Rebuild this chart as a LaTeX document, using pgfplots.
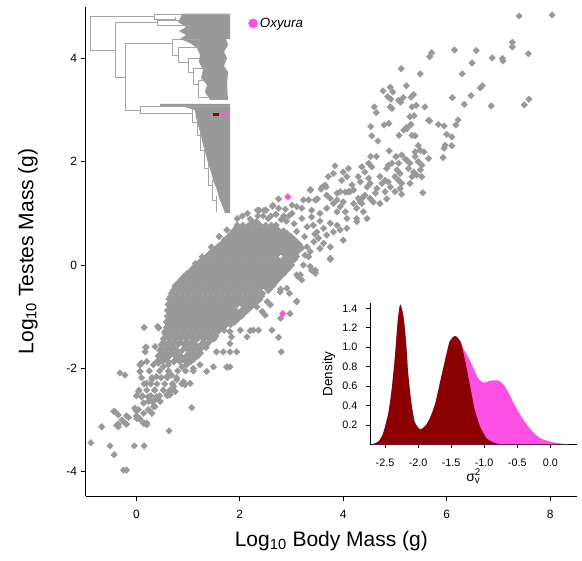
\documentclass[border=0pt]{standalone}
\usepackage{fontspec}
\setmainfont{Liberation Sans}
\usepackage{pgfplots}
\pgfplotsset{compat=1.18}
\definecolor{ptgray}{RGB}{153,153,153}
\definecolor{treegray}{RGB}{165,165,165}
\definecolor{oxy}{RGB}{255,80,230}
\definecolor{dred}{RGB}{139,0,0}
\pgfplotsset{ptstyle/.style={ptgray,only marks,mark=square*,mark size=2.3pt,
  mark options={rotate=45,fill=ptgray,draw=ptgray,line width=0.4pt}}}
\begin{document}
\begin{tikzpicture}[x=1pt,y=1pt]
\useasboundingbox (0,0) rectangle (582,561);
\coordinate (treeSW) at (0,0);
\coordinate (mainSW) at (85.7,65);
\coordinate (insetSW) at (370,116.6);
% ---------- phylogeny inset (pixel coordinates) ----------
\begin{axis}[at={(treeSW)},anchor=south west,scale only axis,width=582pt,height=561pt,
  xmin=0,xmax=582,ymin=0,ymax=561,y dir=reverse,hide axis,clip=false]
\addplot[fill=ptgray,draw=none] coordinates {(182,13.7) (230,13.7) (230,39) (226,39) (228,45) (224,52) (227,58) (224,66) (228,72) (227,85) (228,100) (210,100) (205,92) (207,85) (201,78) (203,70) (199,62) (200,55) (197,48) (190,43) (180,39) (186,35) (179,31) (186,27) (178,22) (180,18.5)} -- cycle;
\addplot[fill=ptgray,draw=none] coordinates {(160,104) (230,104) (230,213) (225,213) (222,205) (219,198) (217,190) (213,180) (211,172) (208,163) (206,155) (203,145) (201,135) (198,125) (196,118) (195,110) (185,107) (160,106)} -- cycle;
\addplot[treegray,line width=0.7pt,unbounded coords=jump] coordinates {
(90,16) (90,50) (nan,nan)
(90,16) (154,16) (nan,nan)
(154,14) (154,19) (nan,nan)
(154,14) (230,14) (nan,nan)
(154,19) (175,19) (nan,nan)
(175,17.5) (175,21) (nan,nan)
(90,50) (115,50) (nan,nan)
(115,22.3) (115,77) (nan,nan)
(115,22.3) (157,22.3) (nan,nan)
(157,20) (157,25) (nan,nan)
(157,20) (180,20) (nan,nan)
(157,25) (190,25) (nan,nan)
(115,77) (125,77) (nan,nan)
(125,43.3) (125,110) (nan,nan)
(125,43.3) (172,43.3) (nan,nan)
(172,39.3) (172,55) (nan,nan)
(172,39.3) (200,39.3) (nan,nan)
(172,55) (178,55) (nan,nan)
(178,47) (178,62) (nan,nan)
(178,47) (200,47) (nan,nan)
(178,62) (188,62) (nan,nan)
(188,58) (188,72) (nan,nan)
(188,58) (200,58) (nan,nan)
(188,72) (193,72) (nan,nan)
(193,68) (193,84) (nan,nan)
(193,68) (205,68) (nan,nan)
(193,84) (198,84) (nan,nan)
(198,80) (198,97) (nan,nan)
(198,80) (205,80) (nan,nan)
(198,97) (208,97) (nan,nan)
(125,110) (140,110) (nan,nan)
(140,106) (140,113) (nan,nan)
(140,106) (230,106) (nan,nan)
(140,113) (192,113) (nan,nan)
(192,109) (192,122) (nan,nan)
(192,122) (197,122) (nan,nan)
(197,118) (197,135) (nan,nan)
(197,135) (200,135) (nan,nan)
(200,130) (200,150) (nan,nan)
(200,150) (204,150) (nan,nan)
(204,145) (204,168) (nan,nan)
(204,168) (208,168) (nan,nan)
(208,163) (208,185) (nan,nan)
(208,185) (212,185) (nan,nan)
(212,180) (212,200) (nan,nan)
(212,200) (216,200) (nan,nan)
(216,196) (216,212)};
\addplot[fill=dred,draw=none] coordinates {(212.7,113.3) (219.3,113.3) (219.3,116.3) (212.7,116.3)} -- cycle;
\addplot[oxy,line width=1pt] coordinates {(219.3,114.8) (230,114.8)};
\end{axis}
% ---------- main scatter ----------
\begin{axis}[at={(mainSW)},anchor=south west,scale only axis,width=491.3pt,height=489.3pt,
  xmin=-0.98,xmax=8.52,ymin=-4.47,ymax=5.0,
  axis x line*=bottom, axis y line*=left,
  axis line style={-,black,line width=0.8pt},
  tick style={black,line width=0.8pt}, tick align=outside, major tick length=5pt,
  xtick={0,2,4,6,8}, xticklabels={0,2,4,6,8},
  ytick={-4,-2,0,2,4}, yticklabels={-4,-2,0,2,4},
  ticklabel style={font=\fontsize{12}{14}\selectfont},
  xticklabel style={yshift=-6pt},
  xlabel={Log\textsubscript{10} Body Mass (g)},
  ylabel={Log\textsubscript{10} Testes Mass (g)},
  xlabel style={at={(axis description cs:0.5,-0.1036)},anchor=base,font=\fontsize{21}{24}\selectfont},
  ylabel style={at={(axis description cs:-0.1067,0.5)},anchor=base,font=\fontsize{21}{24}\selectfont},
  legend cell align=left,
  legend style={at={(axis description cs:0.3306,0.966)},anchor=west,draw=none,fill=none,inner sep=0pt,
    font=\fontsize{13.4}{15}\selectfont\itshape},
  legend image code/.code={\fill[oxy] (0pt,0pt) circle (4.6pt);},
]
% individually read points
\addplot[ptstyle,forget plot] coordinates {
(7.40,4.82) (8.04,4.84) (7.27,4.31) (7.27,4.22) (6.15,4.16) (6.57,4.15) (5.71,4.11) (5.67,4.03) (6.88,4.01) (7.08,4.00)
(7.09,3.95) (7.58,4.09) (6.49,3.91) (5.12,3.80) (5.49,3.70) (6.30,3.70) (6.69,3.47) (6.65,3.43) (5.22,3.47) (4.77,3.37)
(4.91,3.44) (4.96,3.35) (5.36,3.30) (5.31,3.25) (4.86,3.26) (4.92,3.21) (5.16,3.24) (5.07,3.19) (5.11,3.15) (6.11,3.24)
(6.47,3.28) (7.59,3.21) (7.50,3.10) (6.34,3.11) (6.86,3.08) (4.91,3.06) (4.94,3.03) (5.33,3.06) (5.41,3.09) (5.58,3.06)
(5.29,2.87) (5.37,2.89) (5.67,2.79) (6.22,2.81) (6.18,2.71) (5.84,2.72) (5.95,2.69) (5.31,2.72) (5.22,2.66) (4.79,2.71)
(4.88,2.74)
(4.60,3.06) (4.64,2.95) (4.53,2.68) (4.55,2.50) (4.67,2.40) (5.08,2.51) (5.17,2.61) (5.23,2.64) (5.33,2.51) (5.39,2.50)
(4.89,2.21) (4.53,2.10) (4.64,2.10) (5.02,2.10) (5.13,2.13) (5.23,2.03) (5.45,2.31) (5.39,2.19) (5.49,2.22) (5.56,2.19)
(5.65,2.06) (5.65,2.80) (6.00,2.53) (6.10,2.48) (6.10,2.31) (5.97,2.32) (5.95,2.26) (5.93,2.08)
(3.84,1.92) (3.81,1.77) (3.71,1.71) (4.00,1.80) (4.07,1.71) (3.97,1.64) (4.10,1.87) (4.36,1.90) (4.42,1.80) (4.49,1.97)
(4.55,1.90) (4.29,1.71) (4.33,1.61) (4.49,1.68) (4.52,1.58) (4.46,1.51) (4.71,1.71) (4.81,1.64) (4.75,1.58) (4.87,1.93)
(4.84,1.87) (4.94,1.97) (5.07,1.97) (5.04,1.84) (5.10,1.77) (5.00,1.71) (5.07,1.64) (5.13,1.58) (5.10,1.48) (5.00,1.42)
(5.20,2.05) (5.29,1.97) (5.26,1.87) (5.36,1.80) (5.33,1.71) (5.39,2.10) (5.45,2.00) (5.52,1.93) (5.49,1.84) (5.52,1.71)
(5.42,1.74) (4.87,1.61) (4.91,1.51) (4.81,1.42) (4.65,1.48) (4.62,1.39) (5.29,1.58) (5.13,1.37) (5.54,1.40) (4.84,1.28)
(4.17,1.55) (4.20,1.45) (4.13,1.42) (3.94,1.42) (4.04,1.41) (4.42,1.35) (4.36,1.29) (4.52,1.29) (3.59,1.51) (3.65,1.55)
(3.36,1.45) (3.68,1.35) (3.75,1.29) (3.88,1.26) (3.23,1.26) (3.33,1.26) (3.46,1.26) (4.00,1.22) (4.20,1.19) (4.33,1.22)
(4.58,1.22) (4.71,1.19)
(3.37,1.46) (3.57,1.47) (3.67,1.51) (2.75,1.28) (2.64,1.15) (2.51,1.06) (2.38,1.06) (3.50,1.28)
(2.88,1.08) (3.01,1.16) (3.10,1.13) (3.20,1.10) (3.01,1.00) (3.39,1.06) (3.39,0.93) (3.55,1.00) (3.68,1.10)
(3.81,1.19) (3.88,1.39) (4.10,1.42) (4.29,1.29) (4.36,1.19) (4.26,1.10) (3.94,1.13) (4.04,1.03) (3.88,1.03)
(4.07,0.90) (4.26,0.90) (4.39,1.03) (4.46,0.90) (4.07,0.71) (4.00,0.48) (3.75,0.35) (3.75,0.13) (4.26,0.84)
(3.46,-0.10) (3.36,-0.03) (3.23,0.00) (3.17,-0.19) (3.36,0.26) (3.33,0.16) (3.26,0.19) (2.91,-0.45) (2.78,-0.52)
(3.20,0.90) (3.30,0.74) (3.42,0.77) (3.49,0.64) (3.62,0.71) (3.68,0.58) (3.75,0.81) (3.88,0.77) (3.81,0.64) (3.94,0.68)
(3.52,0.52) (3.62,0.42) (3.43,0.45) (3.55,0.32)
(3.05,0.80) (3.10,0.65) (2.95,0.95) (3.25,0.55) (3.55,0.85) (3.15,0.40) (3.30,0.35) (3.45,0.60)
(1.95,0.90) (2.24,0.84) (2.34,1.06) (2.47,1.06) (2.63,1.14) (1.70,0.48) (1.27,0.16) (1.34,0.10) (2.20,0.89) (2.32,0.84)
(1.78,0.42) (1.14,0.03) (0.91,-0.35) (0.75,-0.40) (0.62,-0.76) (0.62,-0.97) (0.41,-1.19) (1.45,0.35) (1.60,0.55)
(1.75,0.68) (2.05,0.95) (2.15,1.00) (2.75,1.10) (2.85,0.95) (2.60,0.95)
(2.45,0.95) (2.55,0.90) (2.70,0.98) (2.80,0.88) (2.90,0.85) (2.35,0.95)
(3.10,-0.19) (3.13,-0.23) (2.96,-0.55) (3.10,-0.70) (2.97,-0.94) (2.79,-1.03)
(-0.88,-3.44) (-0.67,-3.13) (-0.51,-3.50) (-0.43,-3.67) (-0.25,-3.97) (-0.19,-3.97) (-0.04,-3.50) (0.15,-3.50) (0.63,-3.21) (1.07,-2.76)
(-0.44,-2.83) (-0.35,-3.08) (-0.19,-2.92) (-0.19,-3.08) (-0.32,-2.09) (-0.22,-2.13) (0.00,-2.82) (0.06,-2.97) (0.00,-2.92) (0.14,-3.06)
(0.20,-3.06) (0.15,-1.21) (0.43,-1.22) (0.07,-1.93) (0.18,-1.59) (0.04,-2.45) (0.10,-2.55) (0.23,-2.55) (0.30,-2.64) (0.20,-2.29)
(0.30,-2.22) (0.39,-2.16) (0.36,-2.42) (0.39,-2.55) (0.46,-2.64) (0.33,-2.74) (0.23,-2.80) (0.30,-2.87) (0.52,-2.42) (0.59,-2.51)
(0.65,-2.45) (0.72,-2.35) (0.59,-2.16) (0.68,-2.13) (0.78,-2.22) (0.91,-2.26) (0.94,-2.32) (1.04,-2.29) (0.52,-1.97) (0.62,-1.93)
(0.72,-1.87) (0.88,-1.97) (0.97,-1.93) (1.10,-2.00) (1.23,-1.93) (1.36,-2.06) (1.49,-1.97) (1.55,-1.68) (1.68,-1.68) (1.81,-1.68)
(1.94,-1.68) (1.75,-1.97) (1.81,-1.97) (1.81,-1.29) (2.01,-1.26) (2.14,-1.39) (2.26,-1.26) (2.36,-1.26) (2.62,-1.26) (2.75,-1.40)
(2.80,-1.68) (3.10,-0.71) (2.79,-0.47) (3.75,0.11) (3.39,-0.10) (3.46,-0.16) (3.20,-0.29)
(0.09,-1.91) (0.20,-1.87) (0.33,-1.93) (0.43,-1.90) (-0.41,-2.84) (-0.35,-2.90) (-0.28,-3.00) (-0.38,-3.10) (-0.35,-3.13) (-0.15,-2.95)
(-0.22,-3.06) (-0.03,-2.77) (0.04,-2.80) (0.01,-2.97) (0.07,-2.98) (0.14,-2.87) (0.20,-3.09) (0.15,-3.06) (0.36,-2.74) (0.33,-2.64)
(0.39,-2.58) (0.23,-2.64) (0.14,-2.67)
(0.25,-2.05) (0.45,-2.05) (0.62,-2.05) (0.80,-2.05) (0.95,-2.05) (1.10,-2.05)
(0.10,-2.18) (0.30,-2.18) (0.48,-2.18) (0.60,-2.18) (0.78,-2.18)
(0.15,-2.30) (0.28,-2.30) (0.40,-2.30) (0.55,-2.30) (0.70,-2.30) (0.88,-2.30)
(0.05,-2.42) (0.20,-2.42) (0.35,-2.42) (0.52,-2.42) (0.65,-2.42)
(0.00,-2.53) (0.12,-2.53) (0.28,-2.53) (0.45,-2.53) (0.60,-2.53)
(0.75,-2.45) (0.65,-2.51) (1.75,-1.98)
(0.43,-1.21) (0.55,-1.29) (0.62,-0.77) (0.36,-1.58) (0.19,-1.59) (0.17,-1.68) (0.10,-1.90) (0.07,-2.06) (2.33,-0.81) (2.49,-0.97)
(2.43,-0.90) (2.53,-0.71) (2.59,-0.77) (1.84,-1.39) (1.81,-1.52) (2.20,-1.27)
};
% dense core of the cloud
\addplot[ptstyle,forget plot] table[row sep=\\] {
x y\\
1.95 0.77\\ 2.06 0.77\\ 2.17 0.77\\ 2.28 0.77\\ 2.39 0.77\\ 2.50 0.77\\ 2.61 0.77\\ 2.70 0.77\\
1.88 0.66\\ 1.99 0.66\\ 2.10 0.66\\ 2.21 0.66\\ 2.32 0.66\\ 2.43 0.66\\ 2.54 0.66\\ 2.65 0.66\\ 2.76 0.66\\ 2.85 0.66\\
1.78 0.55\\ 1.89 0.55\\ 2.00 0.55\\ 2.11 0.55\\ 2.22 0.55\\ 2.33 0.55\\ 2.44 0.55\\ 2.55 0.55\\ 2.66 0.55\\ 2.77 0.55\\ 2.88 0.55\\ 2.99 0.55\\
1.68 0.44\\ 1.79 0.44\\ 1.90 0.44\\ 2.01 0.44\\ 2.12 0.44\\ 2.23 0.44\\ 2.34 0.44\\ 2.45 0.44\\ 2.56 0.44\\ 2.67 0.44\\ 2.78 0.44\\ 2.89 0.44\\ 3.00 0.44\\ 3.11 0.44\\
1.55 0.33\\ 1.66 0.33\\ 1.77 0.33\\ 1.88 0.33\\ 1.99 0.33\\ 2.10 0.33\\ 2.21 0.33\\ 2.32 0.33\\ 2.43 0.33\\ 2.54 0.33\\ 2.65 0.33\\ 2.76 0.33\\ 2.87 0.33\\ 2.98 0.33\\ 3.09 0.33\\ 3.20 0.33\\
1.42 0.22\\ 1.53 0.22\\ 1.64 0.22\\ 1.75 0.22\\ 1.86 0.22\\ 1.97 0.22\\ 2.08 0.22\\ 2.19 0.22\\ 2.30 0.22\\ 2.41 0.22\\ 2.52 0.22\\ 2.63 0.22\\ 2.74 0.22\\ 2.85 0.22\\ 2.96 0.22\\ 3.07 0.22\\
1.30 0.11\\ 1.41 0.11\\ 1.52 0.11\\ 1.63 0.11\\ 1.74 0.11\\ 1.85 0.11\\ 1.96 0.11\\ 2.07 0.11\\ 2.18 0.11\\ 2.29 0.11\\ 2.40 0.11\\ 2.51 0.11\\ 2.62 0.11\\ 2.73 0.11\\ 2.84 0.11\\ 2.95 0.11\\ 3.06 0.11\\
1.15 0.00\\ 1.26 0.00\\ 1.37 0.00\\ 1.48 0.00\\ 1.59 0.00\\ 1.70 0.00\\ 1.81 0.00\\ 1.92 0.00\\ 2.03 0.00\\ 2.14 0.00\\ 2.25 0.00\\ 2.36 0.00\\ 2.47 0.00\\ 2.58 0.00\\ 2.69 0.00\\ 2.80 0.00\\ 2.91 0.00\\ 3.00 0.00\\
1.05 -0.11\\ 1.16 -0.11\\ 1.27 -0.11\\ 1.38 -0.11\\ 1.49 -0.11\\ 1.60 -0.11\\ 1.71 -0.11\\ 1.82 -0.11\\ 1.93 -0.11\\ 2.04 -0.11\\ 2.15 -0.11\\ 2.26 -0.11\\ 2.37 -0.11\\ 2.48 -0.11\\ 2.59 -0.11\\ 2.70 -0.11\\ 2.81 -0.11\\ 2.90 -0.11\\
0.92 -0.22\\ 1.03 -0.22\\ 1.14 -0.22\\ 1.25 -0.22\\ 1.36 -0.22\\ 1.47 -0.22\\ 1.58 -0.22\\ 1.69 -0.22\\ 1.80 -0.22\\ 1.91 -0.22\\ 2.02 -0.22\\ 2.13 -0.22\\ 2.24 -0.22\\ 2.35 -0.22\\ 2.46 -0.22\\ 2.57 -0.22\\ 2.68 -0.22\\ 2.79 -0.22\\
0.82 -0.33\\ 0.93 -0.33\\ 1.04 -0.33\\ 1.15 -0.33\\ 1.26 -0.33\\ 1.37 -0.33\\ 1.48 -0.33\\ 1.59 -0.33\\ 1.70 -0.33\\ 1.81 -0.33\\ 1.92 -0.33\\ 2.03 -0.33\\ 2.14 -0.33\\ 2.25 -0.33\\ 2.36 -0.33\\ 2.47 -0.33\\ 2.58 -0.33\\ 2.69 -0.33\\
0.75 -0.44\\ 0.86 -0.44\\ 0.97 -0.44\\ 1.08 -0.44\\ 1.19 -0.44\\ 1.30 -0.44\\ 1.41 -0.44\\ 1.52 -0.44\\ 1.63 -0.44\\ 1.74 -0.44\\ 1.85 -0.44\\ 1.96 -0.44\\ 2.07 -0.44\\ 2.18 -0.44\\ 2.29 -0.44\\ 2.40 -0.44\\ 2.51 -0.44\\ 2.60 -0.44\\
0.68 -0.55\\ 0.79 -0.55\\ 0.90 -0.55\\ 1.01 -0.55\\ 1.12 -0.55\\ 1.23 -0.55\\ 1.34 -0.55\\ 1.45 -0.55\\ 1.56 -0.55\\ 1.67 -0.55\\ 1.78 -0.55\\ 1.89 -0.55\\ 2.00 -0.55\\ 2.11 -0.55\\ 2.22 -0.55\\ 2.33 -0.55\\ 2.44 -0.55\\
0.63 -0.66\\ 0.74 -0.66\\ 0.85 -0.66\\ 0.96 -0.66\\ 1.07 -0.66\\ 1.18 -0.66\\ 1.29 -0.66\\ 1.40 -0.66\\ 1.51 -0.66\\ 1.62 -0.66\\ 1.73 -0.66\\ 1.84 -0.66\\ 1.95 -0.66\\ 2.06 -0.66\\ 2.17 -0.66\\ 2.28 -0.66\\ 2.39 -0.66\\
0.62 -0.77\\ 0.73 -0.77\\ 0.84 -0.77\\ 0.95 -0.77\\ 1.06 -0.77\\ 1.17 -0.77\\ 1.28 -0.77\\ 1.39 -0.77\\ 1.50 -0.77\\ 1.61 -0.77\\ 1.72 -0.77\\ 1.83 -0.77\\ 1.94 -0.77\\ 2.05 -0.77\\ 2.16 -0.77\\ 2.27 -0.77\\
0.60 -0.88\\ 0.71 -0.88\\ 0.82 -0.88\\ 0.93 -0.88\\ 1.04 -0.88\\ 1.15 -0.88\\ 1.26 -0.88\\ 1.37 -0.88\\ 1.48 -0.88\\ 1.59 -0.88\\ 1.70 -0.88\\ 1.81 -0.88\\ 1.92 -0.88\\ 2.03 -0.88\\ 2.14 -0.88\\
0.60 -0.99\\ 0.71 -0.99\\ 0.82 -0.99\\ 0.93 -0.99\\ 1.04 -0.99\\ 1.15 -0.99\\ 1.26 -0.99\\ 1.37 -0.99\\ 1.48 -0.99\\ 1.59 -0.99\\ 1.70 -0.99\\ 1.81 -0.99\\ 1.92 -0.99\\ 2.03 -0.99\\
0.58 -1.10\\ 0.69 -1.10\\ 0.80 -1.10\\ 0.91 -1.10\\ 1.02 -1.10\\ 1.13 -1.10\\ 1.24 -1.10\\ 1.35 -1.10\\ 1.46 -1.10\\ 1.57 -1.10\\ 1.68 -1.10\\ 1.79 -1.10\\ 1.90 -1.10\\
0.58 -1.21\\ 0.69 -1.21\\ 0.80 -1.21\\ 0.91 -1.21\\ 1.02 -1.21\\ 1.13 -1.21\\ 1.24 -1.21\\ 1.35 -1.21\\ 1.46 -1.21\\ 1.57 -1.21\\ 1.68 -1.21\\
0.55 -1.32\\ 0.66 -1.32\\ 0.77 -1.32\\ 0.88 -1.32\\ 0.99 -1.32\\ 1.10 -1.32\\ 1.21 -1.32\\ 1.32 -1.32\\ 1.43 -1.32\\ 1.54 -1.32\\
0.52 -1.43\\ 0.63 -1.43\\ 0.74 -1.43\\ 0.85 -1.43\\ 0.96 -1.43\\ 1.07 -1.43\\ 1.18 -1.43\\ 1.29 -1.43\\ 1.40 -1.43\\ 1.50 -1.43\\
0.48 -1.54\\ 0.59 -1.54\\ 0.70 -1.54\\ 0.81 -1.54\\ 0.92 -1.54\\ 1.03 -1.54\\ 1.14 -1.54\\ 1.25 -1.54\\ 1.36 -1.54\\
0.45 -1.65\\ 0.56 -1.65\\ 0.67 -1.65\\ 0.78 -1.65\\ 0.89 -1.65\\ 1.00 -1.65\\ 1.11 -1.65\\ 1.22 -1.65\\
0.42 -1.76\\ 0.53 -1.76\\ 0.64 -1.76\\ 0.75 -1.76\\ 0.86 -1.76\\ 0.97 -1.76\\ 1.08 -1.76\\ 1.19 -1.76\\
0.40 -1.87\\ 0.51 -1.87\\ 0.62 -1.87\\ 0.73 -1.87\\ 0.84 -1.87\\ 0.95 -1.87\\ 1.05 -1.87\\
1.93 0.715\\ 2.04 0.715\\ 2.15 0.715\\ 2.26 0.715\\ 2.37 0.715\\ 2.48 0.715\\ 2.59 0.715\\ 2.70 0.715\\
1.83 0.605\\ 1.94 0.605\\ 2.05 0.605\\ 2.16 0.605\\ 2.27 0.605\\ 2.38 0.605\\ 2.49 0.605\\ 2.60 0.605\\ 2.71 0.605\\ 2.82 0.605\\ 2.92 0.605\\
1.73 0.495\\ 1.84 0.495\\ 1.95 0.495\\ 2.06 0.495\\ 2.17 0.495\\ 2.28 0.495\\ 2.39 0.495\\ 2.50 0.495\\ 2.61 0.495\\ 2.72 0.495\\ 2.83 0.495\\ 2.94 0.495\\ 3.05 0.495\\
1.61 0.385\\ 1.72 0.385\\ 1.83 0.385\\ 1.94 0.385\\ 2.05 0.385\\ 2.16 0.385\\ 2.27 0.385\\ 2.38 0.385\\ 2.49 0.385\\ 2.60 0.385\\ 2.71 0.385\\ 2.82 0.385\\ 2.93 0.385\\ 3.04 0.385\\ 3.15 0.385\\
1.48 0.275\\ 1.59 0.275\\ 1.70 0.275\\ 1.81 0.275\\ 1.92 0.275\\ 2.03 0.275\\ 2.14 0.275\\ 2.25 0.275\\ 2.36 0.275\\ 2.47 0.275\\ 2.58 0.275\\ 2.69 0.275\\ 2.80 0.275\\ 2.91 0.275\\ 3.02 0.275\\ 3.13 0.275\\
1.36 0.165\\ 1.47 0.165\\ 1.58 0.165\\ 1.69 0.165\\ 1.80 0.165\\ 1.91 0.165\\ 2.02 0.165\\ 2.13 0.165\\ 2.24 0.165\\ 2.35 0.165\\ 2.46 0.165\\ 2.57 0.165\\ 2.68 0.165\\ 2.90 0.165\\ 3.01 0.165\\ 3.10 0.165\\
1.22 0.055\\ 1.33 0.055\\ 1.44 0.055\\ 1.55 0.055\\ 1.66 0.055\\ 1.77 0.055\\ 1.88 0.055\\ 1.99 0.055\\ 2.10 0.055\\ 2.21 0.055\\ 2.32 0.055\\ 2.43 0.055\\ 2.54 0.055\\ 2.65 0.055\\ 2.76 0.055\\ 2.87 0.055\\ 2.98 0.055\\
1.10 -0.055\\ 1.21 -0.055\\ 1.32 -0.055\\ 1.43 -0.055\\ 1.54 -0.055\\ 1.65 -0.055\\ 1.76 -0.055\\ 1.87 -0.055\\ 1.98 -0.055\\ 2.09 -0.055\\ 2.20 -0.055\\ 2.31 -0.055\\ 2.42 -0.055\\ 2.53 -0.055\\ 2.64 -0.055\\ 2.75 -0.055\\ 2.86 -0.055\\ 2.95 -0.055\\
0.98 -0.165\\ 1.09 -0.165\\ 1.20 -0.165\\ 1.31 -0.165\\ 1.42 -0.165\\ 1.53 -0.165\\ 1.64 -0.165\\ 1.75 -0.165\\ 1.86 -0.165\\ 1.97 -0.165\\ 2.08 -0.165\\ 2.19 -0.165\\ 2.30 -0.165\\ 2.41 -0.165\\ 2.52 -0.165\\ 2.63 -0.165\\ 2.74 -0.165\\ 2.85 -0.165\\
0.87 -0.275\\ 0.98 -0.275\\ 1.09 -0.275\\ 1.20 -0.275\\ 1.31 -0.275\\ 1.42 -0.275\\ 1.53 -0.275\\ 1.64 -0.275\\ 1.75 -0.275\\ 1.86 -0.275\\ 1.97 -0.275\\ 2.08 -0.275\\ 2.19 -0.275\\ 2.30 -0.275\\ 2.41 -0.275\\ 2.52 -0.275\\ 2.63 -0.275\\ 2.74 -0.275\\
0.78 -0.385\\ 0.89 -0.385\\ 1.00 -0.385\\ 1.11 -0.385\\ 1.22 -0.385\\ 1.33 -0.385\\ 1.44 -0.385\\ 1.55 -0.385\\ 1.66 -0.385\\ 1.77 -0.385\\ 1.88 -0.385\\ 1.99 -0.385\\ 2.10 -0.385\\ 2.21 -0.385\\ 2.32 -0.385\\ 2.43 -0.385\\ 2.54 -0.385\\ 2.65 -0.385\\
0.71 -0.495\\ 0.82 -0.495\\ 0.93 -0.495\\ 1.04 -0.495\\ 1.15 -0.495\\ 1.26 -0.495\\ 1.37 -0.495\\ 1.48 -0.495\\ 1.59 -0.495\\ 1.70 -0.495\\ 1.81 -0.495\\ 1.92 -0.495\\ 2.03 -0.495\\ 2.14 -0.495\\ 2.25 -0.495\\ 2.36 -0.495\\ 2.55 -0.495\\
0.66 -0.605\\ 0.77 -0.605\\ 0.88 -0.605\\ 0.99 -0.605\\ 1.10 -0.605\\ 1.21 -0.605\\ 1.32 -0.605\\ 1.43 -0.605\\ 1.54 -0.605\\ 1.65 -0.605\\ 1.76 -0.605\\ 1.87 -0.605\\ 1.98 -0.605\\ 2.09 -0.605\\ 2.20 -0.605\\ 2.31 -0.605\\ 2.42 -0.605\\
0.68 -0.715\\ 0.79 -0.715\\ 0.90 -0.715\\ 1.01 -0.715\\ 1.12 -0.715\\ 1.23 -0.715\\ 1.34 -0.715\\ 1.45 -0.715\\ 1.56 -0.715\\ 1.67 -0.715\\ 1.78 -0.715\\ 1.89 -0.715\\ 2.00 -0.715\\ 2.11 -0.715\\ 2.22 -0.715\\ 2.33 -0.715\\
0.66 -0.825\\ 0.77 -0.825\\ 0.88 -0.825\\ 0.99 -0.825\\ 1.10 -0.825\\ 1.21 -0.825\\ 1.32 -0.825\\ 1.43 -0.825\\ 1.54 -0.825\\ 1.65 -0.825\\ 1.76 -0.825\\ 1.87 -0.825\\ 2.09 -0.825\\ 2.20 -0.825\\
0.65 -0.935\\ 0.76 -0.935\\ 0.87 -0.935\\ 0.98 -0.935\\ 1.09 -0.935\\ 1.20 -0.935\\ 1.31 -0.935\\ 1.42 -0.935\\ 1.53 -0.935\\ 1.64 -0.935\\ 1.75 -0.935\\ 1.86 -0.935\\ 1.97 -0.935\\ 2.08 -0.935\\
0.64 -1.045\\ 0.75 -1.045\\ 0.86 -1.045\\ 0.97 -1.045\\ 1.08 -1.045\\ 1.19 -1.045\\ 1.30 -1.045\\ 1.41 -1.045\\ 1.52 -1.045\\ 1.63 -1.045\\ 1.74 -1.045\\ 1.85 -1.045\\ 1.96 -1.045\\
0.63 -1.155\\ 0.74 -1.155\\ 0.85 -1.155\\ 0.96 -1.155\\ 1.07 -1.155\\ 1.18 -1.155\\ 1.29 -1.155\\ 1.40 -1.155\\ 1.51 -1.155\\ 1.62 -1.155\\ 1.73 -1.155\\ 1.82 -1.155\\
0.61 -1.265\\ 0.72 -1.265\\ 0.83 -1.265\\ 0.94 -1.265\\ 1.05 -1.265\\ 1.16 -1.265\\ 1.27 -1.265\\ 1.38 -1.265\\ 1.49 -1.265\\ 1.60 -1.265\\ 1.70 -1.265\\
0.57 -1.375\\ 0.68 -1.375\\ 0.79 -1.375\\ 0.90 -1.375\\ 1.01 -1.375\\ 1.12 -1.375\\ 1.23 -1.375\\ 1.34 -1.375\\ 1.45 -1.375\\ 1.54 -1.375\\
0.53 -1.485\\ 0.64 -1.485\\ 0.75 -1.485\\ 0.86 -1.485\\ 0.97 -1.485\\ 1.08 -1.485\\ 1.30 -1.485\\ 1.41 -1.485\\
0.50 -1.595\\ 0.61 -1.595\\ 0.72 -1.595\\ 0.94 -1.595\\ 1.05 -1.595\\ 1.16 -1.595\\ 1.27 -1.595\\ 1.35 -1.595\\
0.47 -1.705\\ 0.58 -1.705\\ 0.69 -1.705\\ 0.80 -1.705\\ 1.02 -1.705\\ 1.13 -1.705\\ 1.24 -1.705\\
0.46 -1.815\\ 0.57 -1.815\\ 0.79 -1.815\\ 0.90 -1.815\\ 1.01 -1.815\\ 1.12 -1.815\\
};
% Oxyura
\addplot[oxy,only marks,mark=square*,mark size=2.3pt,mark options={rotate=45,fill=oxy,draw=oxy,line width=0.4pt}] coordinates {(2.93,1.32) (2.83,-0.94)};
\addlegendentry{Oxyura}
\end{axis}
% ---------- density inset ----------
\begin{axis}[at={(insetSW)},anchor=south west,scale only axis,width=206.7pt,height=141.1pt,
  xmin=-2.727,xmax=0.40,ymin=0,ymax=1.452,
  axis x line*=bottom, axis y line*=left,
  axis line style={-,black,line width=0.8pt},
  tick style={black,line width=0.8pt}, tick align=outside, major tick length=4pt,
  xtick={-2.5,-2,-1.5,-1,-0.5,0}, xticklabels={-2.5,-2.0,-1.5,-1.0,-0.5,0.0},
  ytick={0.2,0.4,0.6,0.8,1.0,1.2,1.4}, yticklabels={0.2,0.4,0.6,0.8,1.0,1.2,1.4},
  ticklabel style={font=\fontsize{10.8}{12}\selectfont},
  xticklabel style={yshift=-7pt},
  yticklabel style={xshift=-5pt},
  ylabel={Density},
  ylabel style={at={(axis description cs:-0.182,0.5)},anchor=base,font=\fontsize{13.5}{15}\selectfont},
  xlabel={σ\rlap{\textsuperscript{2}}\textsubscript{v}},
  xlabel style={at={(axis description cs:0.5,-0.26)},anchor=base,font=\fontsize{14}{16}\selectfont},
]
\addplot[fill=oxy,draw=none,smooth,tension=0.4] coordinates {
(-2.70,0) (-2.60,0.03) (-2.53,0.11) (-2.45,0.32) (-2.40,0.56) (-2.35,0.90) (-2.31,1.25) (-2.27,1.44) (-2.22,1.31) (-2.18,1.04)
(-2.15,0.73) (-2.10,0.42) (-2.05,0.23) (-1.97,0.155) (-1.89,0.19) (-1.82,0.27) (-1.74,0.42) (-1.67,0.63) (-1.59,0.87) (-1.52,1.06)
(-1.44,1.115) (-1.36,1.06) (-1.31,0.98) (-1.24,0.90) (-1.16,0.78) (-1.09,0.68) (-1.01,0.635) (-0.93,0.65) (-0.86,0.66) (-0.78,0.655)
(-0.70,0.61) (-0.63,0.53) (-0.55,0.42) (-0.45,0.30) (-0.35,0.20) (-0.25,0.12) (-0.15,0.063) (0.00,0.028) (0.15,0.01) (0.30,0)
} \closedcycle;
\addplot[fill=dred,draw=none,smooth,tension=0.4] coordinates {
(-2.70,0) (-2.60,0.03) (-2.53,0.11) (-2.45,0.32) (-2.40,0.56) (-2.35,0.90) (-2.31,1.25) (-2.27,1.44) (-2.22,1.31) (-2.18,1.04)
(-2.15,0.73) (-2.10,0.42) (-2.05,0.23) (-1.97,0.155) (-1.89,0.19) (-1.82,0.27) (-1.74,0.42) (-1.67,0.63) (-1.59,0.87) (-1.52,1.06)
(-1.44,1.115) (-1.36,1.06) (-1.29,0.87) (-1.21,0.59) (-1.14,0.35) (-1.06,0.18) (-0.96,0.06) (-0.86,0.02) (-0.76,0)
} \closedcycle;
\end{axis}
\end{tikzpicture}
\end{document}
